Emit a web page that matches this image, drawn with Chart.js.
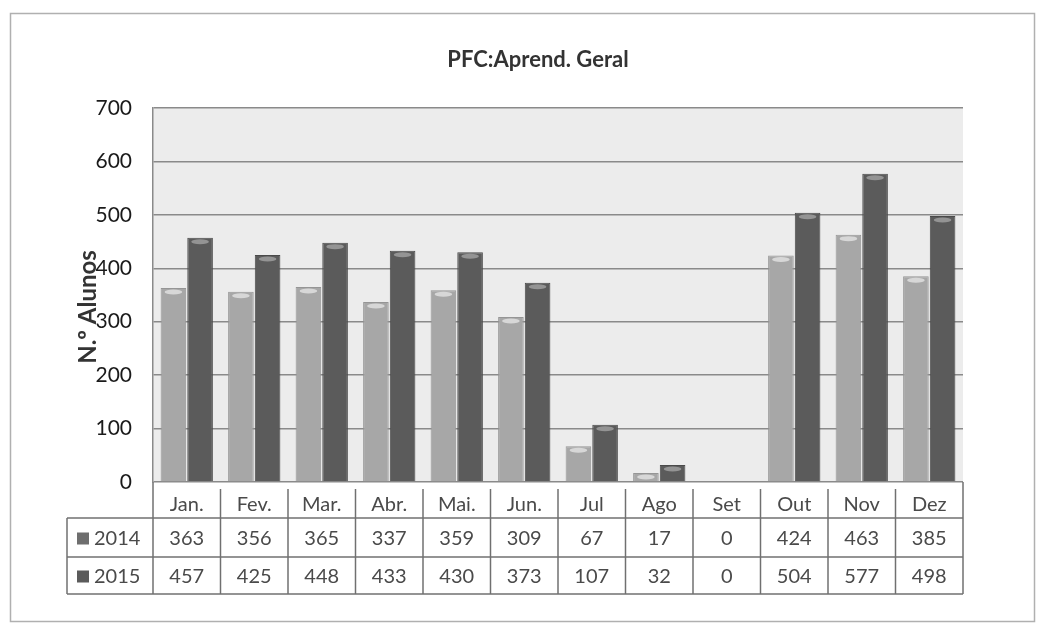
<!DOCTYPE html>
<html>
<head>
<meta charset="utf-8">
<script src="https://cdn.jsdelivr.net/npm/chart.js@4/dist/chart.umd.min.js"></script>
<style>
  html, body { margin: 0; padding: 0; background: #ffffff; }
  #wrap { position: relative; width: 1039px; height: 625px; }
  canvas { display: block; }
</style>
</head>
<body>
<div id="wrap"><canvas id="c" width="1039" height="625"></canvas></div>
<script>
const chartTitle = 'PFC:Aprend. Geral';
const yAxisTitle = 'N.º Alunos';
const months = ['Jan.', 'Fev.', 'Mar.', 'Abr.', 'Mai.', 'Jun.', 'Jul', 'Ago', 'Set', 'Out', 'Nov', 'Dez'];
const seriesNames = ['2014', '2015'];
const values2014 = [363, 356, 365, 337, 359, 309, 67, 17, 0, 424, 463, 385];
const values2015 = [457, 425, 448, 433, 430, 373, 107, 32, 0, 504, 577, 498];
const yTicks = [0, 100, 200, 300, 400, 500, 600, 700];

const colors = ['#a7a7a7', '#5b5b5b'];
const keyColors = ['#6e6e6e', '#5b5b5b'];
const FONT = 'Lato, "Open Sans", "Liberation Sans", sans-serif';
const TABLE_LEFT = 67;
const ROW_H = [518, 557, 594];

const framePlugin = {
  id: 'frame',
  beforeDraw(chart) {
    const { ctx, chartArea: a } = chart;
    ctx.save();
    ctx.fillStyle = '#ffffff';
    ctx.fillRect(0, 0, chart.width, chart.height);
    ctx.strokeStyle = '#b0b0b0';
    ctx.lineWidth = 1.5;
    ctx.strokeRect(10.5, 13.5, 1024, 608);
    ctx.fillStyle = '#ececec';
    ctx.fillRect(a.left, a.top, a.right - a.left, a.bottom - a.top);
    // title
    ctx.fillStyle = '#333333';
    ctx.font = 'bold 22px ' + FONT;
    ctx.textAlign = 'center';
    ctx.textBaseline = 'middle';
    ctx.fillText(chartTitle, 538, 60);
    // y axis title
    ctx.save();
    ctx.translate(88, 307);
    ctx.rotate(-Math.PI / 2);
    ctx.fillStyle = '#333333';
    ctx.font = 'bold 24px ' + FONT;
    ctx.fillText(yAxisTitle, 0, 0);
    ctx.restore();
    ctx.restore();
  },
  afterDatasetsDraw(chart) {
    const { ctx } = chart;
    ctx.save();
    chart.data.datasets.forEach((ds, di) => {
      const meta = chart.getDatasetMeta(di);
      meta.data.forEach((bar, i) => {
        if (!ds.data[i]) return;
        const w = bar.width;
        ctx.fillStyle = di === 0 ? 'rgba(255,255,255,0.55)' : 'rgba(255,255,255,0.35)';
        ctx.beginPath();
        ctx.ellipse(bar.x, bar.y + 4, w / 2 - 4, 2.5, 0, 0, Math.PI * 2);
        ctx.fill();
      });
    });
    ctx.restore();
  },
  afterDraw(chart) {
    const { ctx, chartArea: a, scales } = chart;
    const xs = scales.x;
    const n = months.length;
    const step = (a.right - a.left) / n;
    ctx.save();
    ctx.strokeStyle = '#707070';
    ctx.lineWidth = 1.5;
    ROW_H.forEach(y => {
      ctx.beginPath();
      ctx.moveTo(TABLE_LEFT, y);
      ctx.lineTo(a.right, y);
      ctx.stroke();
    });
    ctx.beginPath();
    ctx.moveTo(TABLE_LEFT, ROW_H[0]);
    ctx.lineTo(TABLE_LEFT, ROW_H[2]);
    ctx.stroke();
    [a.left, a.right].forEach(x => {
      ctx.beginPath();
      ctx.moveTo(x, a.bottom);
      ctx.lineTo(x, ROW_H[2]);
      ctx.stroke();
    });
    for (let i = 1; i < n; i++) {
      const x = xs.getPixelForValue(i) - step / 2;
      ctx.beginPath();
      ctx.moveTo(x, a.bottom + 7);
      ctx.lineTo(x, ROW_H[2]);
      ctx.stroke();
    }
    const rows = [values2014, values2015];
    ctx.textBaseline = 'middle';
    rows.forEach((vals, r) => {
      const yc = (ROW_H[r] + ROW_H[r + 1]) / 2 + 1;
      ctx.fillStyle = keyColors[r];
      ctx.fillRect(77, yc - 6, 12, 12);
      ctx.fillStyle = '#4a4a4a';
      ctx.font = '20px ' + FONT;
      ctx.textAlign = 'left';
      ctx.fillText(seriesNames[r], 94, yc);
      ctx.textAlign = 'center';
      vals.forEach((v, i) => {
        ctx.fillText(String(v), xs.getPixelForValue(i), yc);
      });
    });
    ctx.restore();
  }
};

new Chart(document.getElementById('c'), {
  type: 'bar',
  data: {
    labels: months,
    datasets: [
      { label: seriesNames[0], data: values2014, backgroundColor: colors[0], borderColor: '#959595', borderWidth: 1,
        categoryPercentage: 0.79, barPercentage: 0.96 },
      { label: seriesNames[1], data: values2015, backgroundColor: colors[1], borderColor: '#4a4a4a', borderWidth: 1,
        categoryPercentage: 0.79, barPercentage: 0.96 }
    ]
  },
  options: {
    responsive: false,
    animation: false,
    devicePixelRatio: 1,
    layout: { padding: { left: 12, right: 76, top: 108, bottom: 107 } },
    plugins: {
      legend: { display: false },
      title: { display: false },
      tooltip: { enabled: false }
    },
    scales: {
      x: {
        grid: { display: false, drawTicks: false },
        border: { display: false },
        ticks: { color: '#4a4a4a', font: { family: FONT, size: 20 }, padding: 11, maxRotation: 0 },
        afterFit(s) { s.height = 36; }
      },
      y: {
        min: 0, max: 700,
        afterBuildTicks(s) { s.ticks = yTicks.map(v => ({ value: v })); },
        grid: { color: '#8a8a8a', lineWidth: 1.5, drawTicks: false },
        border: { display: true, color: '#8a8a8a', width: 1.5 },
        ticks: { color: '#1a1a1a', font: { family: FONT, size: 21 }, padding: 21 },
        afterFit(s) { s.width = 141; }
      }
    }
  },
  plugins: [framePlugin]
});
</script>
</body>
</html>
